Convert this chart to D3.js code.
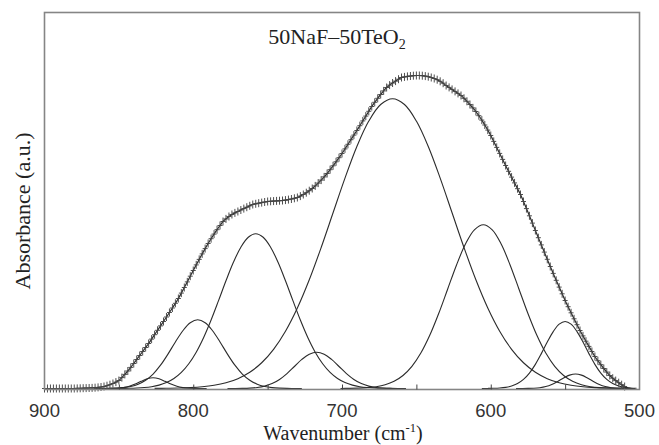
<!DOCTYPE html>
<html><head><meta charset="utf-8">
<script src="https://cdn.jsdelivr.net/npm/d3@7"></script>
<style>body{margin:0;background:#fff}svg{display:block}</style>
</head><body>
<svg id="c" width="659" height="445"></svg>
<script>
// ---- data (absorbance in arbitrary units) ----
const tickValues = [850, 800, 750, 700, 650, 600, 550];
const tickLabels = ["900", "800", "700", "600", "500"];
const labelValues = [900, 800, 700, 600, 500];
const titleMain = "50NaF–50TeO";
const titleSub = "2";

// measured spectrum (crosses), every 2 cm-1 from 900 to 510
const envWave = d3.range(900, 509, -2);
const envAbs = [
0,0,0,0,0,0,0,0,0,0,0,
0.1,0.2,0.3,0.4,0.5,
0.6,0.8,1.1,1.5,2,
2.8,3.8,5,6.4,8,
10.9,14.1,17.5,21.1,25,
29,33,37,41,45,
49.4,53.8,58.2,62.6,67,
71.5,76,80.5,85.2,90,
95.4,101,106.6,112.3,118,
123.6,129.1,134.6,139.9,145,
149.8,154.4,158.8,163,167,
169.6,172,174,175.6,177,
178.5,179.9,181.3,182.7,184,
184.7,185.3,185.9,186.5,187,
187.2,187.4,187.6,187.8,188,
188.4,188.9,189.5,190.2,191,
192.4,194,195.8,197.8,200,
202.6,205.4,208.4,211.6,215,
218.8,222.7,226.7,230.8,235,
239.6,244.2,248.8,253.4,258,
262.8,267.6,272.4,277.2,282,
286.2,290.2,294,297.6,301,
303.4,305.5,307.4,309.3,311,
311.6,312.1,312.5,312.8,313,
313,312.8,312.4,311.8,311,
310,308.8,307.2,305.3,303,
301.1,299.1,297.1,295.1,293,
290.2,287.2,284,280.6,277,
272.8,268.4,263.5,258.4,253,
247.1,241.1,235.1,229.1,223,
217.2,211.4,205.6,199.8,194,
187,179.9,172.7,165.4,158,
150.8,143.6,136.4,129.2,122,
115.1,108.2,101.4,94.7,88,
81.8,75.7,69.7,63.8,58,
52.6,47.3,42.1,37,32,
27.8,23.8,20,16.4,13,
10.3,7.9,5.8,3.8,2
];

// deconvoluted component bands: [wavenumber, absorbance]
const band1 = [[863,0],[859,0.02],[855,0.08],[851,0.31],[847,0.91],[843,2.20],[839,4.40],[835,7.21],[831,9.69],[827,10.7],[823,9.69],[819,7.21],[815,4.40],[811,2.20],[807,0.91],[803,0.31],[799,0.08],[795,0.02],[791,0]];
const band2 = [[867,0.02],[862,0.05],[857,0.14],[852,0.37],[847,0.91],[842,2.07],[837,4.31],[832,8.26],[827,14.48],[822,23.30],[817,34.39],[812,46.55],[807,57.78],[802,65.79],[797,68.7],[792,65.79],[787,57.78],[782,46.55],[777,34.39],[772,23.30],[767,14.48],[762,8.26],[757,4.31],[752,2.07],[747,0.91],[742,0.37],[737,0.14],[732,0.05],[727,0.02]];
const band3 = [[853,0.04],[848,0.10],[843,0.22],[838,0.47],[833,0.95],[828,1.83],[823,3.37],[818,5.94],[813,9.99],[808,16.09],[803,24.74],[798,36.34],[793,51.04],[788,68.49],[783,87.84],[778,107.70],[773,126.19],[768,141.30],[763,151.24],[758,154.7],[753,151.24],[748,141.30],[743,126.19],[738,107.70],[733,87.84],[728,68.49],[723,51.04],[718,36.34],[713,24.74],[708,16.09],[703,9.99],[698,5.94],[693,3.37],[688,1.83],[683,0.95],[678,0.47],[673,0.22],[668,0.10],[663,0.04]];
const band4 = [[777,0.01],[772,0.04],[767,0.14],[762,0.40],[757,1.04],[752,2.39],[747,4.91],[742,9.05],[737,14.92],[732,22.02],[727,29.07],[722,34.34],[717,36.3],[712,34.34],[707,29.07],[702,22.02],[697,14.92],[692,9.05],[687,4.91],[682,2.39],[677,1.04],[672,0.40],[667,0.14],[662,0.04],[657,0.01]];
const band5 = [[826,0.10],[818,0.21],[810,0.44],[802,0.90],[794,1.73],[786,3.22],[778,5.74],[770,9.85],[762,16.25],[754,25.75],[746,39.20],[738,57.33],[730,80.54],[722,108.72],[714,141.03],[706,175.70],[698,210.35],[690,241.99],[682,267.42],[674,283.96],[666,289.7],[658,283.96],[650,267.42],[642,241.99],[634,210.35],[626,175.70],[618,141.03],[610,108.72],[602,80.54],[594,57.33],[586,39.20],[578,25.75],[570,16.25],[562,9.85],[554,5.74],[546,3.22],[538,1.73],[530,0.90],[522,0.44],[514,0.21],[506,0.10]];
const band6 = [[701,0.05],[695,0.14],[689,0.36],[683,0.83],[677,1.82],[671,3.73],[665,7.19],[659,13.03],[653,22.15],[647,35.41],[641,53.15],[635,74.94],[629,99.28],[623,123.56],[617,144.46],[611,158.66],[605,163.7],[599,158.66],[593,144.46],[587,123.56],[581,99.28],[575,74.94],[569,53.15],[563,35.41],[557,22.15],[551,13.03],[545,7.19],[539,3.73],[533,1.82],[527,0.83],[521,0.36],[515,0.14],[509,0.05]];
const band7 = [[606,0.02],[602,0.07],[598,0.19],[594,0.48],[590,1.13],[586,2.46],[582,4.92],[578,9.07],[574,15.42],[570,24.15],[566,34.87],[562,46.40],[558,56.90],[554,64.32],[550,67],[546,64.32],[542,56.90],[538,46.40],[534,34.87],[530,24.15],[526,15.42],[522,9.07],[518,4.92],[514,2.46],[510,1.13],[506,0.48],[502,0.19]];
const band8 = [[583,0],[579,0.02],[575,0.09],[571,0.29],[567,0.81],[563,1.96],[559,4.03],[555,7.06],[551,10.53],[547,13.38],[543,14.5],[539,13.38],[535,10.53],[531,7.06],[527,4.03],[523,1.96],[519,0.81],[515,0.29],[511,0.09],[507,0.02],[503,0]];
const bands = [band1, band2, band3, band4, band5, band6, band7, band8];

// ---- drawing ----
const svg = d3.select('#c');
const x = d3.scaleLinear().domain([900, 500]).range([44.5, 639.5]);
const y = d3.scaleLinear().domain([0, 375.5]).range([388.5, 13]);

// component bands
const line = d3.line().x(d => x(d[0])).y(d => y(d[1])).curve(d3.curveCatmullRom);
svg.append('g').selectAll('path').data(bands).join('path')
  .attr('d', line).attr('fill', 'none').attr('stroke', '#2b2b2b').attr('stroke-width', 1.1);

// spectrum line + crosses
const env = envWave.map((w, i) => [w, envAbs[i]]);
svg.append('path').attr('d', line(env)).attr('fill', 'none').attr('stroke', '#2b2b2b').attr('stroke-width', 1.2);
let cross = '';
env.forEach(d => {
  const px = x(d[0]), py = y(d[1]);
  cross += `M${px - 2.5},${py}h5M${px},${py - 4}v8`;
});
svg.append('path').attr('d', cross).attr('fill', 'none').attr('stroke', '#444').attr('stroke-width', 0.95);

// frame
svg.append('rect').attr('x', 44.5).attr('y', 12.5).attr('width', 595).attr('height', 377)
  .attr('fill', 'none').attr('stroke', '#858585').attr('stroke-width', 1.6);

// bottom axis ticks (inside) and labels
const ax = svg.append('g').attr('transform', 'translate(0,389.5)')
  .call(d3.axisBottom(x).tickValues(tickValues).tickSizeInner(-5).tickSizeOuter(0).tickFormat(''));
ax.select('.domain').remove();
ax.selectAll('line').attr('stroke', '#444');
svg.append('g').selectAll('text').data(labelValues).join('text')
  .attr('x', d => x(d)).attr('y', 417)
  .attr('text-anchor', 'middle')
  .attr('font-family', 'Liberation Sans, Arial, sans-serif')
  .attr('font-size', 18.5).attr('fill', '#333')
  .text((d, i) => tickLabels[i]);

// title
const t = svg.append('text').attr('x', 337).attr('y', 43.5).attr('text-anchor', 'middle')
  .attr('font-family', 'Liberation Serif, Times New Roman, serif').attr('font-size', 22).attr('fill', '#222');
t.append('tspan').text(titleMain);
t.append('tspan').attr('font-size', 14).attr('dy', 5).text(titleSub);

// x axis title
const xt = svg.append('text').attr('x', 343).attr('y', 440).attr('text-anchor', 'middle')
  .attr('font-family', 'Liberation Serif, Times New Roman, serif').attr('font-size', 20).attr('fill', '#222');
xt.append('tspan').text('Wavenumber (cm');
xt.append('tspan').attr('font-size', 12.5).attr('dy', -8).text('-1');
xt.append('tspan').attr('dy', 8).text(')');

// y axis title
svg.append('text').attr('transform', 'translate(30,211) rotate(-90)').attr('text-anchor', 'middle')
  .attr('font-family', 'Liberation Serif, Times New Roman, serif').attr('font-size', 22).attr('fill', '#222')
  .text('Absorbance (a.u.)');
</script>
</body></html>
